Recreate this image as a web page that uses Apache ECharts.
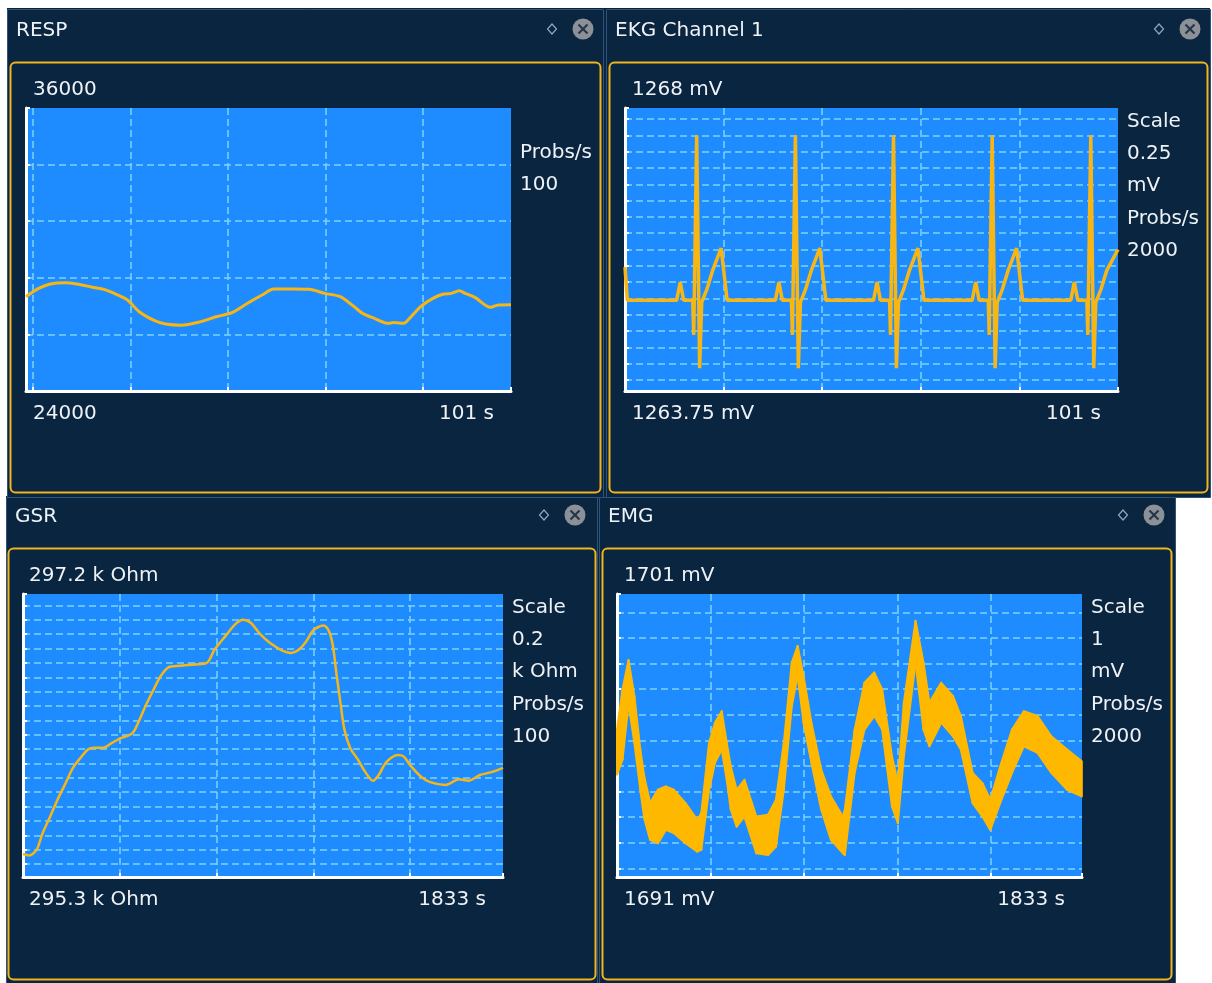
<!DOCTYPE html>
<html>
<head>
<meta charset="utf-8">
<title>Signals</title>
<script src="https://cdn.jsdelivr.net/npm/echarts@6/dist/echarts.min.js"></script>
<style>
html, body { margin: 0; padding: 0; background: #ffffff; }
#main { width: 1212px; height: 983px; }
</style>
</head>
<body>
<div id="main"></div>
<script>
// RESP, 100 probs/s, window ending at 101 s
var respTime = [95.93, 96.06, 96.18, 96.33, 96.45, 96.61, 96.73, 96.85, 96.97, 97.09,
  97.25, 97.36, 97.52, 97.72, 97.88, 98.04, 98.20, 98.35, 98.47, 98.67,
  98.83, 98.99, 99.15, 99.27, 99.38, 99.50, 99.64, 99.70, 99.80, 99.86,
  99.98, 100.10, 100.21, 100.29, 100.37, 100.43, 100.53, 100.69, 100.77, 100.90];
var respValue = [28000, 28350, 28540, 28590, 28540, 28400, 28310, 28110, 27860, 27360,
  26980, 26840, 26790, 26940, 27150, 27320, 27720, 28070, 28320, 28320,
  28310, 28140, 28000, 27650, 27290, 27080, 26870, 26900, 26870, 27080,
  27600, 27930, 28110, 28140, 28250, 28140, 27970, 27550, 27650, 27660];

// EKG channel 1 (mV), 2000 probs/s
var ekgTime = [96.000, 96.024,
  96.524, 96.560, 96.595, 96.687, 96.697, 96.727, 96.757, 96.778, 96.828, 96.889, 96.975, 97.036,
  97.525, 97.561, 97.596, 97.688, 97.698, 97.728, 97.758, 97.779, 97.829, 97.890, 97.976, 98.037,
  98.520, 98.556, 98.591, 98.683, 98.693, 98.723, 98.753, 98.774, 98.824, 98.885, 98.971, 99.032,
  99.521, 99.557, 99.592, 99.684, 99.694, 99.724, 99.754, 99.775, 99.825, 99.886, 99.972, 100.033,
  100.521, 100.557, 100.592, 100.684, 100.694, 100.724, 100.754, 100.775, 100.825, 100.886, 101.000];
var ekgValue = [1265.73, 1265.22,
  1265.22, 1265.50, 1265.22, 1265.22, 1264.69, 1267.75, 1264.18, 1265.19, 1265.38, 1265.68, 1266.02, 1265.22,
  1265.22, 1265.50, 1265.22, 1265.22, 1264.69, 1267.75, 1264.18, 1265.19, 1265.38, 1265.68, 1266.02, 1265.22,
  1265.22, 1265.50, 1265.22, 1265.22, 1264.69, 1267.75, 1264.18, 1265.19, 1265.38, 1265.68, 1266.02, 1265.22,
  1265.22, 1265.50, 1265.22, 1265.22, 1264.69, 1267.75, 1264.18, 1265.19, 1265.38, 1265.68, 1266.02, 1265.22,
  1265.22, 1265.50, 1265.22, 1265.22, 1264.69, 1267.75, 1264.18, 1265.19, 1265.38, 1265.68, 1266.00];

// GSR (k Ohm), 100 probs/s
var gsrTime = [1828.000, 1828.062, 1828.141, 1828.200, 1828.280, 1828.358, 1828.438, 1828.516, 1828.595, 1828.674,
  1828.734, 1828.832, 1828.911, 1828.990, 1829.128, 1829.188, 1829.266, 1829.346, 1829.424, 1829.504,
  1829.622, 1829.780, 1829.899, 1829.977, 1830.096, 1830.195, 1830.273, 1830.353, 1830.451, 1830.550,
  1830.669, 1830.768, 1830.846, 1830.926, 1831.004, 1831.103, 1831.162, 1831.202, 1831.242, 1831.281,
  1831.320, 1831.380, 1831.458, 1831.538, 1831.616, 1831.676, 1831.754, 1831.873, 1831.932, 1832.011,
  1832.110, 1832.208, 1832.366, 1832.505, 1832.604, 1832.722, 1832.841, 1832.960];
var gsrValue = [295.47, 295.46, 295.50, 295.61, 295.73, 295.85, 295.96, 296.07, 296.14, 296.20,
  296.21, 296.21, 296.24, 296.27, 296.31, 296.38, 296.50, 296.61, 296.71, 296.77,
  296.78, 296.79, 296.80, 296.89, 296.99, 297.07, 297.10, 297.08, 297.00, 296.94,
  296.89, 296.87, 296.89, 296.95, 297.03, 297.06, 297.02, 296.92, 296.71, 296.52,
  296.34, 296.21, 296.13, 296.04, 295.98, 296.02, 296.11, 296.16, 296.15, 296.08,
  296.01, 295.97, 295.95, 295.99, 295.98, 296.02, 296.04, 296.07];

// EMG (mV), 2000 probs/s: upper and lower edge of the noisy trace
var emgTime = [1828.000, 1828.059, 1828.123, 1828.186, 1828.249, 1828.291, 1828.354, 1828.438, 1828.521, 1828.606,
  1828.732, 1828.858, 1828.901, 1828.984, 1829.047, 1829.119, 1829.173, 1829.216, 1829.279, 1829.362,
  1829.489, 1829.615, 1829.699, 1829.783, 1829.868, 1829.931, 1829.994, 1830.078, 1830.183, 1830.287,
  1830.413, 1830.435, 1830.540, 1830.645, 1830.750, 1830.834, 1830.939, 1831.002, 1831.066, 1831.191,
  1831.276, 1831.339, 1831.465, 1831.591, 1831.675, 1831.801, 1831.906, 1831.990, 1832.095, 1832.222,
  1832.348, 1832.495, 1832.642, 1832.811, 1832.968];
var emgUpper = [1696.43, 1697.99, 1699.14, 1697.73, 1695.64, 1694.59, 1693.56, 1694.07, 1694.20, 1694.07,
  1693.55, 1692.89, 1693.16, 1695.90, 1696.69, 1697.14, 1695.90, 1694.98, 1694.07, 1694.46,
  1693.02, 1693.09, 1693.68, 1695.90, 1699.04, 1699.69, 1698.51, 1696.69, 1694.85, 1693.81,
  1693.02, 1693.29, 1696.42, 1698.25, 1698.65, 1697.99, 1695.38, 1694.33, 1697.47, 1700.67,
  1699.04, 1697.47, 1698.25, 1697.73, 1696.95, 1694.73, 1694.33, 1693.68, 1694.98, 1696.42,
  1697.14, 1696.95, 1696.16, 1695.64, 1695.18];
var emgLower = [1694.66, 1695.25, 1697.40, 1695.90, 1694.07, 1692.96, 1692.11, 1691.98, 1692.50, 1692.38,
  1691.98, 1691.65, 1691.72, 1694.07, 1695.12, 1695.64, 1694.46, 1693.29, 1692.63, 1693.02,
  1691.59, 1691.52, 1691.85, 1694.07, 1697.34, 1698.51, 1696.69, 1695.12, 1693.29, 1692.11,
  1691.59, 1691.52, 1694.73, 1696.42, 1696.95, 1696.42, 1693.42, 1692.76, 1695.38, 1699.04,
  1696.42, 1695.77, 1696.69, 1696.16, 1695.64, 1693.55, 1693.02, 1692.50, 1693.55, 1694.73,
  1695.77, 1695.51, 1694.73, 1694.07, 1693.81];

var NAVY = '#0a2540';
var EDGE = '#2e5378';
var GOLD = '#f0b41c';
var TRACE = '#f7b614';
var EMG_FILL = '#ffb800';
var PLOT = '#1e8cff';
var DASH = '#7fd2ff';
var TEXT = '#eef2f6';
var FONT = '20px "DejaVu Sans", sans-serif';

function pairs(xs, ys) {
  return xs.map(function (x, i) { return [x, ys[i]]; });
}

function label(x, y, text, align) {
  align = align || 'left';
  return {
    type: 'text', x: x, y: y + 2, z: 20, silent: true,
    style: { text: text, fill: TEXT, font: FONT, textAlign: align, textVerticalAlign: 'middle' }
  };
}

// one window: frame, yellow box, title and the two header icons
function panel(x, y, w, h, box, title, titleY, diamondX, closeX) {
  return [
    { type: 'rect', z: -9, silent: true, shape: { x: x + 0.5, y: y + 0.5, width: w, height: h },
      style: { fill: NAVY, stroke: EDGE, lineWidth: 1 } },
    { type: 'rect', z: -8, silent: true, shape: { x: box[0], y: box[1], width: box[2], height: box[3], r: 5 },
      style: { fill: NAVY, stroke: GOLD, lineWidth: 2 } },
    label(x + 9, titleY, title),
    { type: 'polygon', z: 20, silent: true,
      shape: { points: [[diamondX, titleY - 5], [diamondX + 4.5, titleY], [diamondX, titleY + 5], [diamondX - 4.5, titleY]] },
      style: { fill: 'none', stroke: '#8fa7c2', lineWidth: 1.2 } },
    { type: 'circle', z: 20, silent: true, shape: { cx: closeX, cy: titleY, r: 10.5 }, style: { fill: '#8c9097' } },
    { type: 'line', z: 21, silent: true, shape: { x1: closeX - 4.5, y1: titleY - 4.5, x2: closeX + 4.5, y2: titleY + 4.5 },
      style: { stroke: '#27374a', lineWidth: 2.2 } },
    { type: 'line', z: 21, silent: true, shape: { x1: closeX + 4.5, y1: titleY - 4.5, x2: closeX - 4.5, y2: titleY + 4.5 },
      style: { stroke: '#27374a', lineWidth: 2.2 } }
  ];
}

function axis(gridIndex, min, max, step) {
  return {
    type: 'value', gridIndex: gridIndex, min: min, max: max,
    minInterval: step, maxInterval: step,
    axisLine: { show: true, onZero: false, lineStyle: { color: '#ffffff', width: 3 } },
    axisTick: { show: true, inside: true, length: 4, lineStyle: { color: '#ffffff', width: 2 } },
    axisLabel: { show: false },
    splitLine: { show: true, showMinLine: false, showMaxLine: false,
      lineStyle: { color: DASH, width: 1.5, type: [7, 4] } }
  };
}

function plotGrid(left, top, width, height) {
  return { left: left, top: top, width: width, height: height, show: true,
    backgroundColor: PLOT, borderWidth: 0 };
}

// EMG band: one quad per step between the upper and lower edge
function emgBand(params, api) {
  var i = params.dataIndexInside;
  if (i >= params.dataInsideLength - 1) return null;
  var t0 = api.value(0, i), t1 = api.value(0, i + 1);
  var pts = [
    api.coord([t0, api.value(1, i)]),
    api.coord([t1, api.value(1, i + 1)]),
    api.coord([t1, api.value(2, i + 1)]),
    api.coord([t0, api.value(2, i)])
  ];
  return {
    type: 'polygon',
    shape: { points: pts },
    style: { fill: EMG_FILL, stroke: EMG_FILL, lineWidth: 2, lineJoin: 'round' }
  };
}

var graphics = [
  { type: 'rect', z: -10, silent: true, shape: { x: 7, y: 8, width: 1203, height: 490 }, style: { fill: NAVY } },
  { type: 'rect', z: -10, silent: true, shape: { x: 6, y: 496, width: 1169, height: 487 }, style: { fill: NAVY } }
]
  .concat(panel(7, 9, 596, 488, [10.5, 62.5, 590, 430], 'RESP', 29, 552, 583))
  .concat(panel(606, 9, 604, 488, [609.5, 62.5, 598, 430], 'EKG Channel 1', 29, 1159, 1190))
  .concat(panel(6, 497, 591, 486, [8.5, 548.5, 587, 431], 'GSR', 515, 544, 575))
  .concat(panel(599, 497, 576, 486, [602.5, 548.5, 569, 431], 'EMG', 515, 1123, 1154))
  .concat([
    label(33, 88, '36000'), label(33, 412, '24000'), label(494, 412, '101 s', 'right'),
    label(520, 151, 'Probs/s'), label(520, 183, '100'),

    label(632, 88, '1268 mV'), label(632, 412, '1263.75 mV'), label(1101, 412, '101 s', 'right'),
    label(1127, 120, 'Scale'), label(1127, 152, '0.25'), label(1127, 184, 'mV'),
    label(1127, 217, 'Probs/s'), label(1127, 249, '2000'),

    label(29, 574, '297.2 k Ohm'), label(29, 898, '295.3 k Ohm'), label(486, 898, '1833 s', 'right'),
    label(512, 606, 'Scale'), label(512, 638, '0.2'), label(512, 670, 'k Ohm'),
    label(512, 703, 'Probs/s'), label(512, 735, '100'),

    label(624, 574, '1701 mV'), label(624, 898, '1691 mV'), label(1065, 898, '1833 s', 'right'),
    label(1091, 606, 'Scale'), label(1091, 638, '1'), label(1091, 670, 'mV'),
    label(1091, 703, 'Probs/s'), label(1091, 735, '2000')
  ]);

var chart = echarts.init(document.getElementById('main'), null, { renderer: 'canvas' });
chart.setOption({
  backgroundColor: '#ffffff',
  animation: false,
  graphic: { elements: graphics },
  grid: [
    plotGrid(26, 108, 485, 283),
    plotGrid(625, 108, 493, 283),
    plotGrid(23, 594, 480, 283),
    plotGrid(617, 594, 465, 283)
  ],
  xAxis: [
    axis(0, 95.93, 100.90, 1),
    axis(1, 96, 101, 1),
    axis(2, 1828, 1832.96, 1),
    axis(3, 1828, 1832.97, 1)
  ],
  yAxis: [
    axis(0, 24000, 36000, 2400),
    axis(1, 1263.83, 1268.17, 0.25),
    axis(2, 295.31, 297.28, 0.1),
    axis(3, 1690.66, 1701.72, 1)
  ],
  series: [
    { name: 'RESP', type: 'line', xAxisIndex: 0, yAxisIndex: 0, data: pairs(respTime, respValue),
      symbol: 'none', smooth: 0.3, lineStyle: { color: TRACE, width: 3 } },
    { name: 'EKG Channel 1', type: 'line', xAxisIndex: 1, yAxisIndex: 1, data: pairs(ekgTime, ekgValue),
      symbol: 'none', lineStyle: { color: TRACE, width: 3.5 } },
    { name: 'GSR', type: 'line', xAxisIndex: 2, yAxisIndex: 2, data: pairs(gsrTime, gsrValue),
      symbol: 'none', smooth: 0.3, lineStyle: { color: TRACE, width: 2.5 } },
    { name: 'EMG', type: 'custom', xAxisIndex: 3, yAxisIndex: 3,
      data: emgTime.map(function (t, i) { return [t, emgUpper[i], emgLower[i]]; }),
      encode: { x: 0, y: [1, 2] },
      renderItem: emgBand }
  ]
});
</script>
</body>
</html>
